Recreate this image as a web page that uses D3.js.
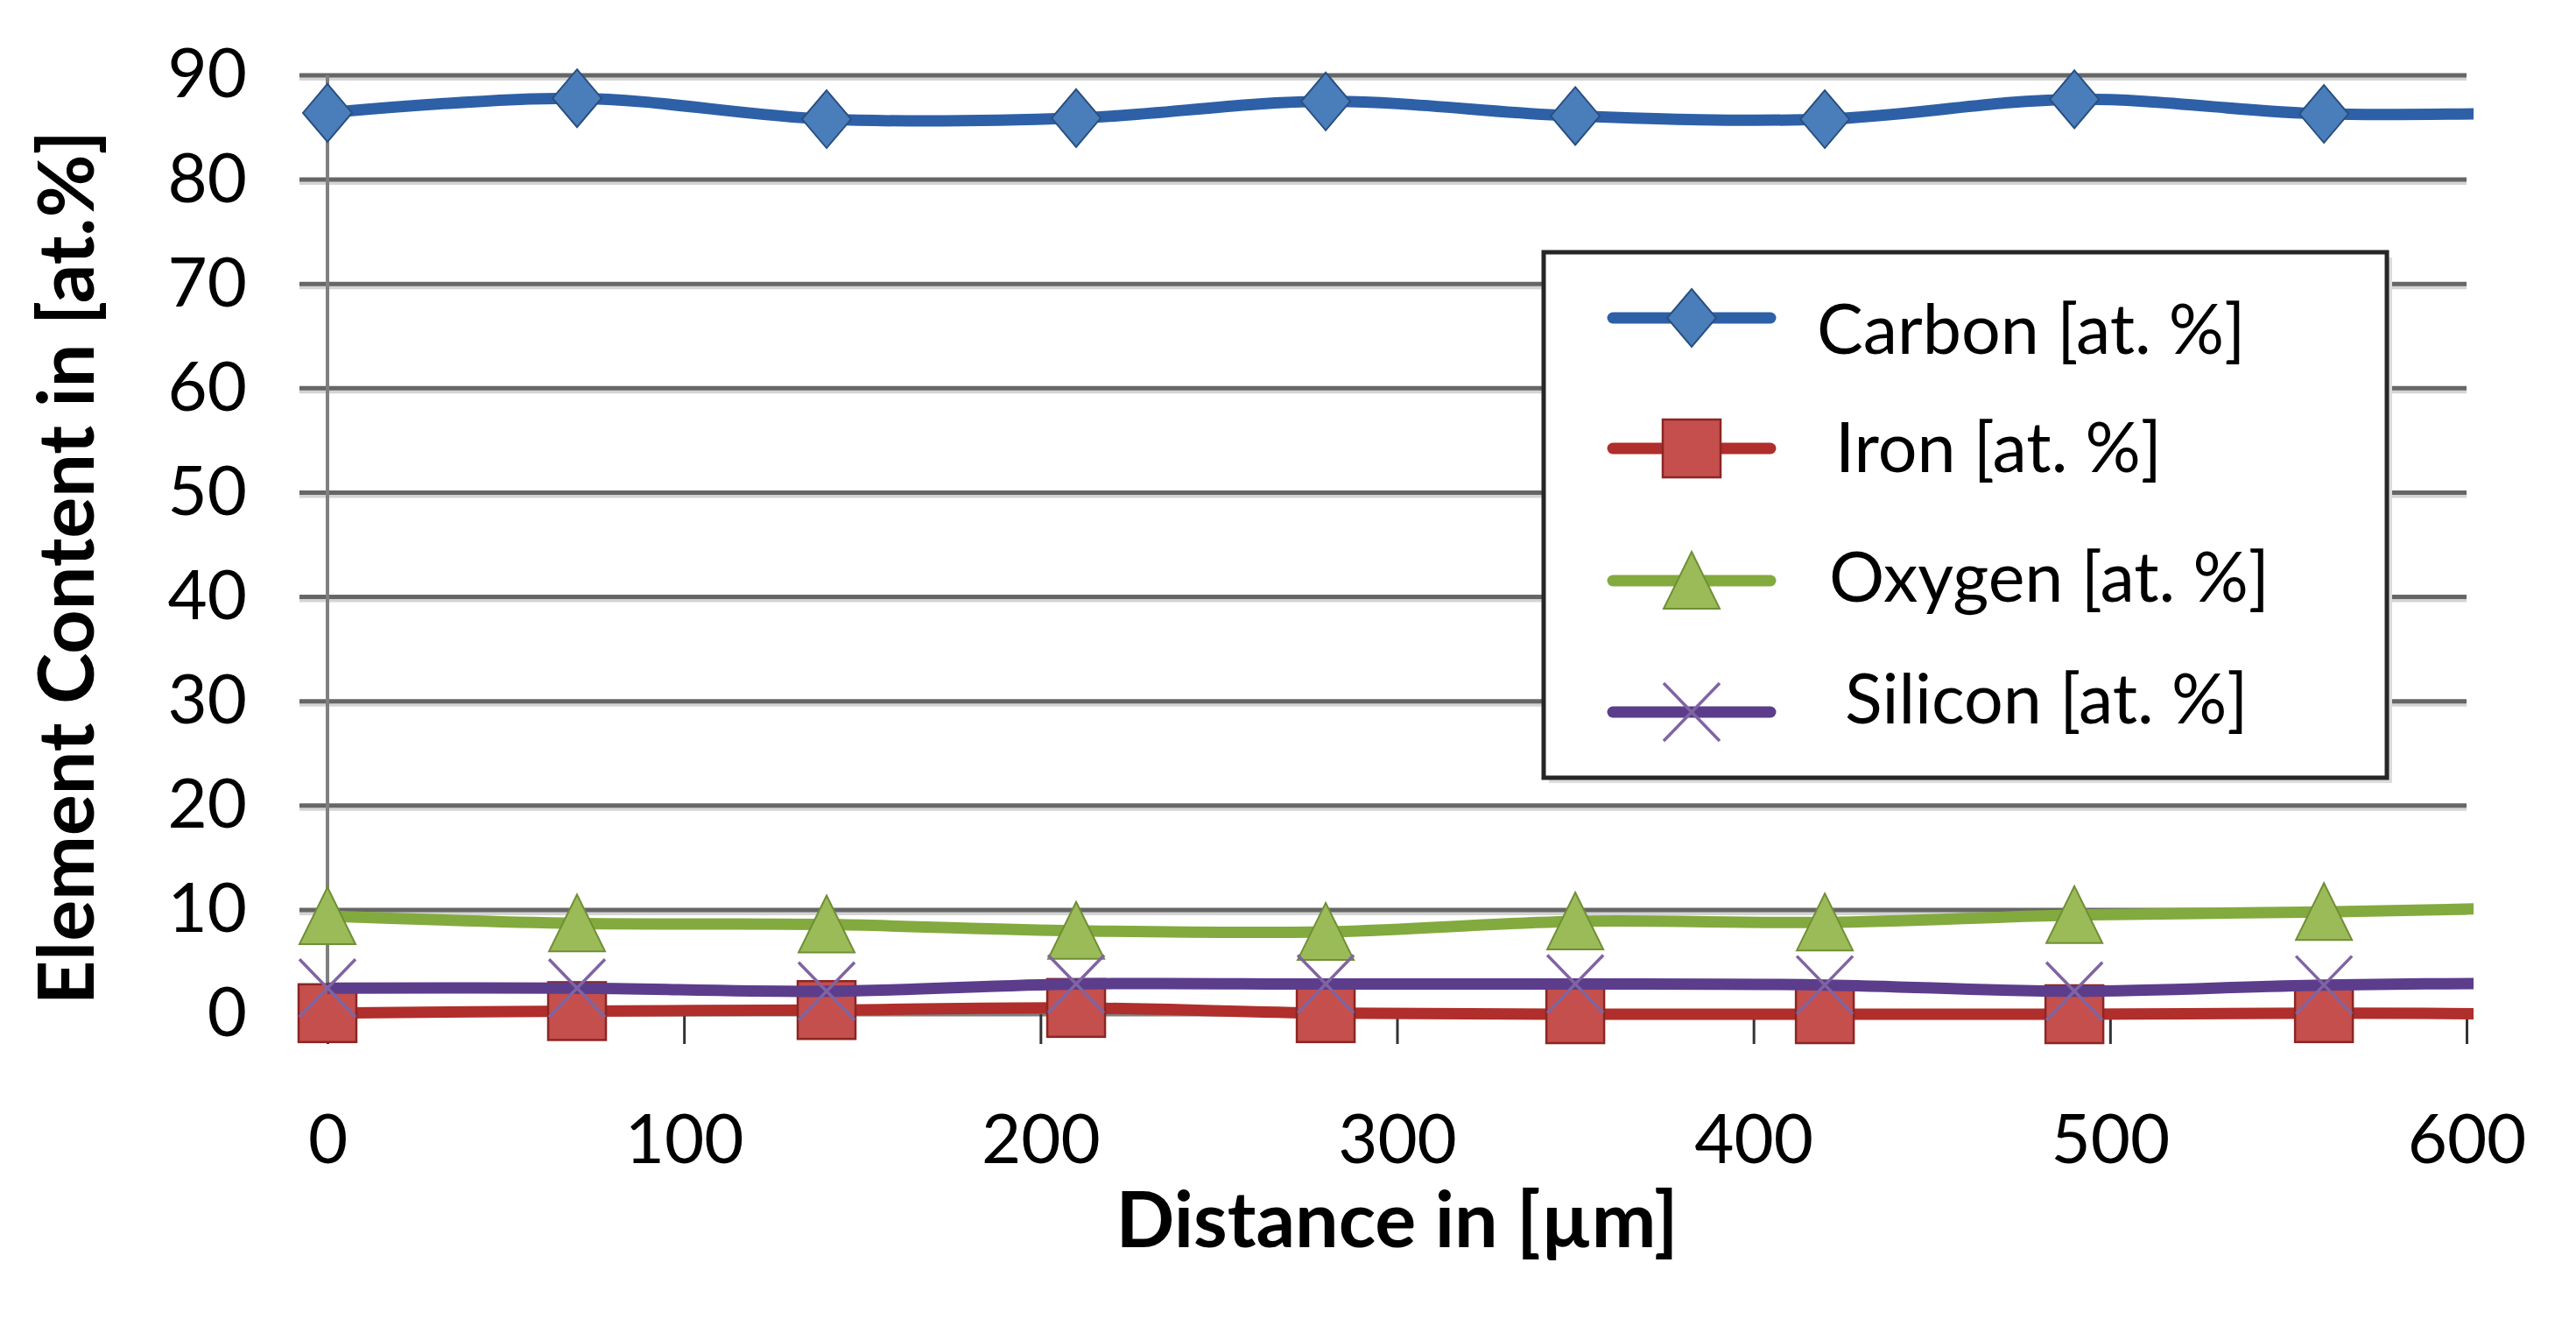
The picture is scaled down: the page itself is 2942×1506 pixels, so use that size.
<!DOCTYPE html>
<html>
<head>
<meta charset="utf-8">
<script src="https://cdn.jsdelivr.net/npm/d3@7"></script>
<style>
    html, body { margin: 0; padding: 0; background: #ffffff; }
    svg { display: block; }
    text { font-family: Lato, "Open Sans", sans-serif; fill: #000000; }
</style>
</head>
<body>
<div id="vizcontainer"></div>
<script>
// Data (distance in um, content in at.%)
// The last point sits past 600 so the lines run out to the plot edge, it is clipped.
var distance = [0, 70, 140, 210, 280, 350, 420, 490, 560, 630];
var carbon = [86.4, 87.8, 85.8, 85.9, 87.5, 86.1, 85.8, 87.7, 86.3, 86.5];
var iron = [0.1, 0.3, 0.4, 0.6, 0.1, 0.0, 0.0, 0.0, 0.1, 0.0];
var oxygen = [9.4, 8.7, 8.6, 8.0, 7.9, 8.9, 8.8, 9.5, 9.8, 10.3];
var silicon = [2.5, 2.5, 2.2, 2.9, 2.9, 2.9, 2.8, 2.2, 2.8, 3.0];

var seriesNames = ['Carbon [at. %]', 'Iron [at. %]', 'Oxygen [at. %]', 'Silicon [at. %]'];
var xTicks = [0, 100, 200, 300, 400, 500, 600];
var yTicks = [0, 10, 20, 30, 40, 50, 60, 70, 80, 90];

var widgetWidth = 2942,
    widgetHeight = 1506;

// Plot box in page pixels
var plotLeft = 374,
    plotRight = 2817,
    plotTop = 86,
    plotBottom = 1158;

var x = d3.scaleLinear().domain([0, 600]).range([plotLeft, plotRight]);
var y = d3.scaleLinear().domain([0, 90]).range([plotBottom, plotTop]);

var svg = d3.select('#vizcontainer').append('svg')
    .attr('width', widgetWidth)
    .attr('height', widgetHeight);

svg.append('defs').append('clipPath')
    .attr('id', 'plotclip')
    .append('rect')
    .attr('x', 0)
    .attr('y', 0)
    .attr('width', plotRight + 8)
    .attr('height', widgetHeight);

/**
 * Horizontal gridlines with the little light shadow under them
 */
var grid = svg.append('g').attr('class', 'grid');
yTicks.filter(function(t) { return t > 0; }).forEach(function(t) {
    grid.append('line')
        .attr('x1', plotLeft - 32).attr('x2', plotRight)
        .attr('y1', y(t) + 4).attr('y2', y(t) + 4)
        .attr('stroke', '#d4d4d4').attr('stroke-width', 4);
    grid.append('line')
        .attr('x1', plotLeft - 32).attr('x2', plotRight)
        .attr('y1', y(t)).attr('y2', y(t))
        .attr('stroke', '#666666').attr('stroke-width', 5);
});

// Y axis: labels only, lines drawn by hand
var yAxis = svg.append('g')
    .attr('transform', 'translate(' + plotLeft + ',0)')
    .call(d3.axisLeft(y).tickValues(yTicks).tickSize(0).tickPadding(92));
yAxis.select('.domain').remove();
yAxis.selectAll('text')
    .style('font-size', '78px')
    .style('font-family', 'Lato, sans-serif')
    .attr('fill', '#000');

svg.append('line')
    .attr('x1', plotLeft).attr('x2', plotLeft)
    .attr('y1', plotTop).attr('y2', plotBottom)
    .attr('stroke', '#7f7f7f').attr('stroke-width', 4);

// X axis
var xAxis = svg.append('g')
    .attr('transform', 'translate(0,' + plotBottom + ')')
    .call(d3.axisBottom(x).tickValues(xTicks).tickSize(34).tickPadding(81).tickSizeOuter(0));
xAxis.select('.domain')
    .attr('stroke', '#7f7f7f')
    .attr('stroke-width', 4);
xAxis.selectAll('.tick line')
    .attr('stroke', '#333333')
    .attr('stroke-width', 3);
xAxis.selectAll('text')
    .style('font-size', '78px')
    .style('font-family', 'Lato, sans-serif')
    .attr('fill', '#000');

// Axis titles
svg.append('text')
    .attr('x', (plotLeft + plotRight) / 2)
    .attr('y', 1424)
    .attr('text-anchor', 'middle')
    .style('font-size', '88px')
    .style('font-weight', 'bold')
    .text('Distance in [\u00b5m]');

svg.append('text')
    .attr('transform', 'translate(107,648) rotate(-90)')
    .attr('text-anchor', 'middle')
    .style('font-size', '88px')
    .style('font-weight', 'bold')
    .text('Element Content in [at.%]');

/**
 * Marker shapes, all centred on 0,0
 */
function drawMarker(g, kind, st) {
    if (kind === 'diamond') {
        g.append('path')
            .attr('d', 'M0,-33L28,0L0,33L-28,0Z')
            .attr('fill', st.fill).attr('stroke', st.edge).attr('stroke-width', 2);
    } else if (kind === 'square') {
        g.append('rect')
            .attr('x', -33).attr('y', -33).attr('width', 66).attr('height', 66)
            .attr('fill', st.fill).attr('stroke', st.edge).attr('stroke-width', 2.5);
    } else if (kind === 'triangle') {
        g.append('path')
            .attr('d', 'M0,-33L32,32L-32,32Z')
            .attr('fill', st.fill).attr('stroke', st.edge).attr('stroke-width', 2);
    } else if (kind === 'cross') {
        g.append('path')
            .attr('d', 'M-32,-33L32,33M32,-33L-32,33')
            .attr('fill', 'none').attr('stroke', st.fill).attr('stroke-width', 3.5);
    }
}

var styles = [
    { line: '#2d60a6', fill: '#4a7ebb', edge: '#2a4f80', marker: 'diamond' },
    { line: '#b02e2b', fill: '#c44f4c', edge: '#8c2624', marker: 'square' },
    { line: '#83aa3e', fill: '#9bbb59', edge: '#6f8f34', marker: 'triangle' },
    { line: '#5c3d8c', fill: '#8064a2', edge: '#5c3d8c', marker: 'cross' }
];
var seriesValues = [carbon, iron, oxygen, silicon];

var lineGen = d3.line()
    .x(function(d) { return x(d.x); })
    .y(function(d) { return y(d.v); })
    .curve(d3.curveCardinal.tension(0));

var plot = svg.append('g').attr('class', 'series');

for (var i = 0; i < seriesValues.length; i++) {
    var pts = distance.map(function(d, j) { return { x: d, v: seriesValues[i][j] }; });
    var st = styles[i];

    plot.append('path')
        .datum(pts)
        .attr('clip-path', 'url(#plotclip)')
        .attr('d', lineGen)
        .attr('fill', 'none')
        .attr('stroke', st.line)
        .attr('stroke-width', 13)
        .attr('stroke-linejoin', 'round');

    // markers only for points inside the axis range
    pts.filter(function(p) { return p.x <= 600; }).forEach(function(p) {
        var g = plot.append('g')
            .attr('transform', 'translate(' + x(p.x) + ',' + y(p.v) + ')');
        drawMarker(g, st.marker, st);
    });
} // End series loop

/**
 * Legend box
 */
var legend = svg.append('g').attr('class', 'legend');
legend.append('rect')
    .attr('x', 1769).attr('y', 294).attr('width', 963).attr('height', 600)
    .attr('fill', '#dcdcdc');
legend.append('rect')
    .attr('x', 1763).attr('y', 288).attr('width', 963).attr('height', 600)
    .attr('fill', '#ffffff')
    .attr('stroke', '#262626')
    .attr('stroke-width', 5);

// rows: symbol centre, label x and label baseline (labels are not quite aligned in the original)
var legendRows = [363, 512, 663, 813],
    legendTextX = [2075, 2096, 2089, 2107],
    legendTextY = [404, 539, 687, 826];
seriesNames.forEach(function(name, k) {
    var st = styles[k],
        ly = legendRows[k];
    legend.append('line')
        .attr('x1', 1842).attr('x2', 2022)
        .attr('y1', ly).attr('y2', ly)
        .attr('stroke', st.line)
        .attr('stroke-width', 13)
        .attr('stroke-linecap', 'round');
    var g = legend.append('g').attr('transform', 'translate(1932,' + ly + ')');
    drawMarker(g, st.marker, st);
    legend.append('text')
        .attr('x', legendTextX[k])
        .attr('y', legendTextY[k])
        .style('font-size', '79px')
        .text(name);
});
</script>
</body>
</html>
